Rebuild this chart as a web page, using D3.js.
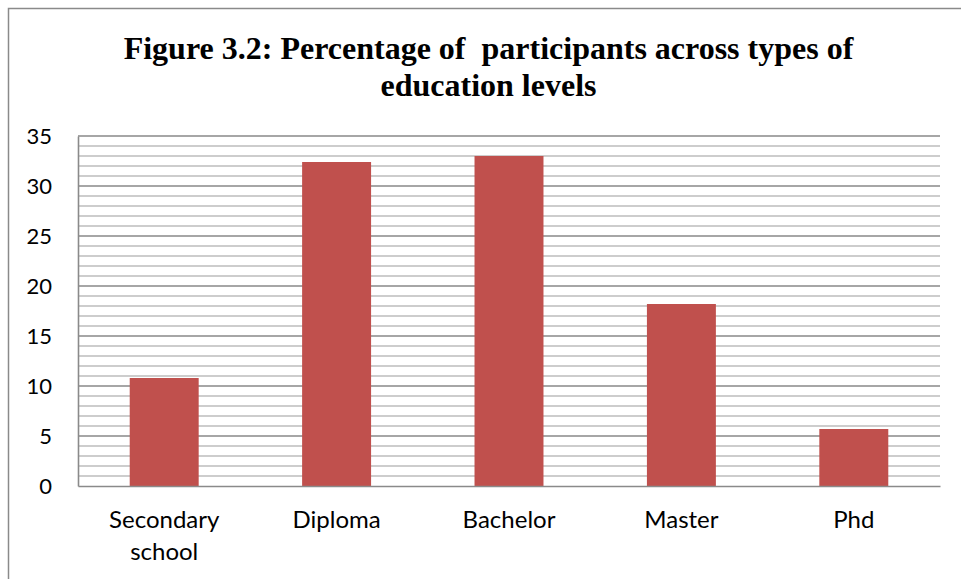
<!DOCTYPE html>
<html>
<head>
<meta charset="utf-8">
<script src="https://cdn.jsdelivr.net/npm/d3@7"></script>
<style>
  html, body { margin: 0; padding: 0; background: #fff; }
  svg { display: block; }
</style>
</head>
<body>
<svg id="chart" width="961" height="579"></svg>
<script>
// Education level categories and their share of participants (%)
const categories = ["Secondary school", "Diploma", "Bachelor", "Master", "Phd"];
const percentages = [10.8, 32.4, 33.0, 18.2, 5.7];
const yTicks = [0, 5, 10, 15, 20, 25, 30, 35];
const titleLines = ["Figure 3.2: Percentage of  participants across types of", "education levels"];

const width = 961, height = 579;
const margin = { top: 136, right: 21, bottom: 93, left: 78 };
const innerW = width - margin.left - margin.right;
const innerH = height - margin.top - margin.bottom;

const svg = d3.select("#chart");

// Chart frame (top and left edges visible in the window)
svg.append("path")
  .attr("d", `M8.5,${height} V8.5 H${width}`)
  .attr("fill", "none")
  .attr("stroke", "#8a8a8a")
  .attr("stroke-width", 1.5);

// Title
const title = svg.append("text")
  .attr("text-anchor", "middle")
  .attr("font-family", "'Liberation Serif', 'Times New Roman', serif")
  .attr("font-weight", "bold")
  .attr("font-size", 32)
  .attr("fill", "#000")
  .style("white-space", "pre");
title.selectAll("tspan")
  .data(titleLines)
  .join("tspan")
  .attr("x", 488.5)
  .attr("y", (d, i) => 59 + i * 37)
  .text(d => d);

const g = svg.append("g").attr("transform", `translate(${margin.left},${margin.top})`);

const x = d3.scaleBand()
  .domain(categories)
  .range([0, innerW])
  .paddingInner(0.6)
  .paddingOuter(0.3);

const y = d3.scaleLinear()
  .domain([0, 35])
  .range([innerH, 0]);

// Minor gridlines every 1 unit, major every 5
const gridVals = d3.range(1, 36);
g.append("g").selectAll("line")
  .data(gridVals)
  .join("line")
  .attr("x1", 0)
  .attr("x2", innerW)
  .attr("y1", d => y(d))
  .attr("y2", d => y(d))
  .attr("stroke", d => d % 5 === 0 ? "#898989" : "#bdbdbd")
  .attr("stroke-width", 1.6);

// Bars
g.append("g").selectAll("rect")
  .data(categories.map((c, i) => ({ c, v: percentages[i] })))
  .join("rect")
  .attr("x", d => x(d.c))
  .attr("y", d => y(d.v))
  .attr("width", x.bandwidth())
  .attr("height", d => y(0) - y(d.v))
  .attr("fill", "#c0504d");

// Y axis
const yAxis = g.append("g")
  .call(d3.axisLeft(y).tickValues(yTicks).tickSize(0).tickPadding(26));
yAxis.select(".domain").attr("stroke", "#8a8a8a").attr("stroke-width", 1.6);
yAxis.selectAll("text")
  .attr("font-family", "Lato, 'Open Sans', sans-serif")
  .attr("font-size", 22)
  .attr("fill", "#000");

// X axis
const xAxis = g.append("g")
  .attr("transform", `translate(0,${innerH})`)
  .call(d3.axisBottom(x).tickSize(0).tickPadding(0));
xAxis.select(".domain").attr("stroke", "#8a8a8a").attr("stroke-width", 1.6);
xAxis.selectAll(".tick text").each(function (d) {
  const t = d3.select(this);
  const words = d.split(" ");
  t.text(null)
    .attr("font-family", "Lato, 'Open Sans', sans-serif")
    .attr("font-size", 24)
    .attr("fill", "#000")
    .attr("y", 0)
    .attr("dy", null);
  words.forEach((w, i) => {
    t.append("tspan").attr("x", 0).attr("y", 42 + i * 32).text(w);
  });
});
</script>
</body>
</html>
